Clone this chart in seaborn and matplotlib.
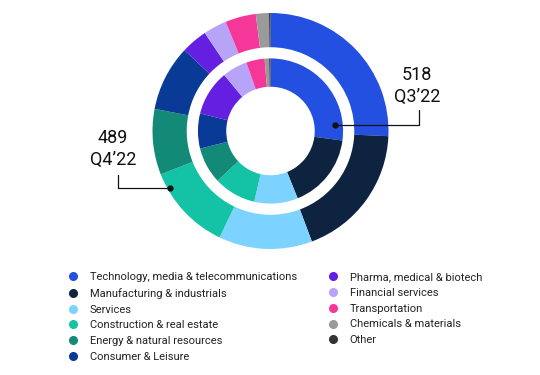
import matplotlib
matplotlib.use('Agg')
import matplotlib.pyplot as plt
import seaborn as sns
from matplotlib.lines import Line2D

sns.set_theme(style='white')
plt.rcParams['font.family'] = ['Roboto', 'DejaVu Sans']

# sectors (legend order)
sectors = ['Technology, media & telecommunications', 'Manufacturing & industrials',
           'Services', 'Construction & real estate', 'Energy & natural resources',
           'Consumer & Leisure', 'Pharma, medical & biotech', 'Financial services',
           'Transportation', 'Chemicals & materials', 'Other']
colors = ['#2350E0', '#0E2340', '#7DD3FF', '#14C3A5', '#138A78',
          '#083A96', '#651FE0', '#B7A3F7', '#F5379A', '#9A9A9A', '#333333']

# shares in percent
q4_22 = [25.7, 18.6, 12.8, 11.9, 9.0, 9.0, 3.6, 3.2, 4.2, 1.8, 0.2]   # outer ring
q3_22 = [27.1, 16.8, 9.7, 9.4, 8.1, 7.8, 10.1, 5.6, 4.1, 1.0, 0.3]   # inner ring
totals = {'Q4’22': 489, 'Q3’22': 518}

fig = plt.figure(figsize=(5.4, 3.75), dpi=100)
ax = fig.add_axes([0, 0, 1, 1])

ax.pie(q4_22, colors=colors, startangle=90, counterclock=False, radius=1.0,
       wedgeprops=dict(width=0.29, linewidth=0))
ax.pie(q3_22, colors=colors, startangle=90, counterclock=False, radius=0.615,
       wedgeprops=dict(width=0.24, linewidth=0))

# 118 px per data unit, pie centre at (270.5, 131) px
ax.set_xlim(-270.5 / 118, (540 - 270.5) / 118)
ax.set_ylim((131 - 375) / 118, 131 / 118)
ax.set_aspect('auto')
ax.axis('off')

# callouts
ax.text(-1.335, -0.153, f"{totals['Q4’22']}\nQ4’22", ha='center', va='center',
        fontsize=13, color='#111111', linespacing=1.25)
ax.plot([-1.295, -1.295, -0.852], [-0.373, -0.483, -0.483], color='#111111', lw=0.9)
ax.plot([-0.852], [-0.483], 'o', color='#111111', ms=3.5)

ax.text(1.242, 0.381, f"{totals['Q3’22']}\nQ3’22", ha='center', va='center',
        fontsize=13, color='#111111', linespacing=1.25)
ax.plot([1.258, 1.258, 0.547], [0.178, 0.051, 0.051], color='#111111', lw=0.9)
ax.plot([0.547], [0.051], 'o', color='#111111', ms=3.5)

handles = [Line2D([], [], marker='o', ls='', color=c, ms=5.5) for c in colors]
kw = dict(loc='upper left', frameon=False, fontsize=8, borderpad=0,
          handlelength=1.0, handletextpad=1.0, labelspacing=0.52,
          labelcolor='#222222')
fig.legend(handles[:6], sectors[:6], bbox_to_anchor=(62 / 540, 1 - 266.5 / 375), **kw)
fig.legend(handles[6:], sectors[6:], bbox_to_anchor=(322 / 540, 1 - 266.5 / 375), **kw)

fig.savefig('out.png', dpi=100)
